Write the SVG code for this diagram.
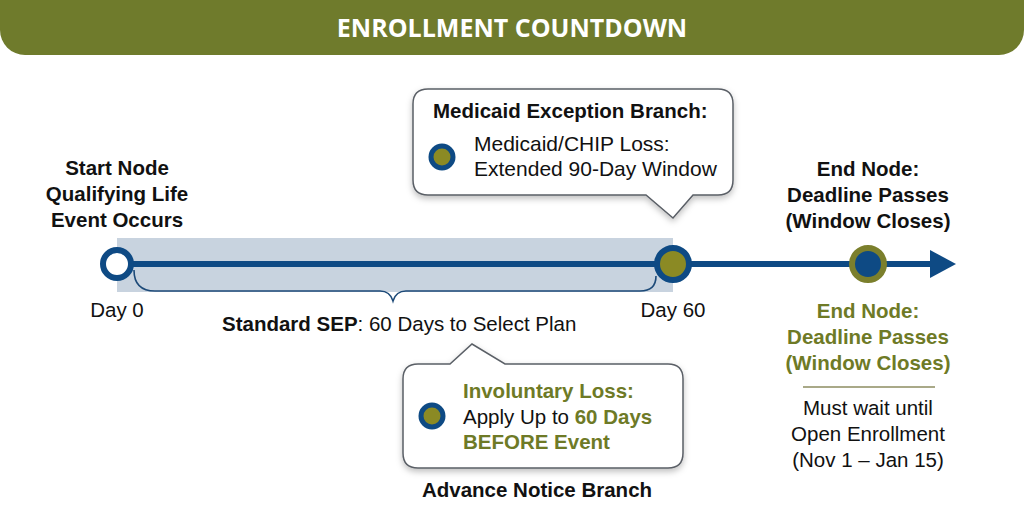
<svg xmlns="http://www.w3.org/2000/svg" width="1024" height="525" viewBox="0 0 1024 525">
<defs>
<style>
.t{font-family:"Liberation Sans",Arial,sans-serif;font-size:20.5px;fill:#111}
.b{font-weight:bold}
.c{text-anchor:middle}
.ol{fill:#6e7a26}
.call{fill:#fff;stroke:#5a5f66;stroke-width:1.5}
</style>
<filter id="sh" x="-10%" y="-10%" width="120%" height="130%">
<feDropShadow dx="0" dy="3" stdDeviation="3" flood-color="#000" flood-opacity="0.25"/>
</filter>
</defs>
<rect width="1024" height="525" fill="#fff"/>
<g id="header">
<path d="M0 0H1024V30A25 25 0 0 1 999 55H25A25 25 0 0 1 0 30Z" fill="#6f7b2c"/>
<text x="512" y="37" text-anchor="middle" style="font-family:'Open Sans',Lato,sans-serif;font-weight:bold;font-size:25px;fill:#fff">ENROLLMENT COUNTDOWN</text>
</g>
<g id="sep-band">
<rect x="117" y="238" width="556" height="54" fill="#c8d3df"/>
</g>
<g id="connectors">
<line x1="117" y1="264" x2="935" y2="264" stroke="#0e4a84" stroke-width="6"/>
<path d="M930 250L956 264L930 278Z" fill="#0e4a84"/>
<path d="M134 270Q134 291 155 291H380Q390 291 393 301Q396 291 406 291H640Q656 291 656 276" fill="none" stroke="#1d4a78" stroke-width="1.6"/>
</g>
<g id="start-node">
<circle cx="117" cy="264" r="14" fill="#fff" stroke="#0e4a84" stroke-width="6"/>
<text class="t b c" x="117" y="175">Start Node</text>
<text class="t b c" x="117" y="201">Qualifying Life</text>
<text class="t b c" x="117" y="227">Event Occurs</text>
<text class="t c" x="117" y="317">Day 0</text>
</g>
<g id="sep-label">
<text class="t" x="222" y="331"><tspan class="b">Standard SEP</tspan>: 60 Days to Select Plan</text>
</g>
<g id="day60-node">
<circle cx="673" cy="264" r="16" fill="#8b8a24" stroke="#0e4a84" stroke-width="6"/>
<text class="t c" x="673" y="317">Day 60</text>
</g>
<g id="medicaid-branch">
<path class="call" filter="url(#sh)" d="M428 89H718Q733 89 733 104V180Q733 195 718 195H693L673 218L646 195H428Q413 195 413 180V104Q413 89 428 89Z"/>
<text class="t b" x="433" y="118">Medicaid Exception Branch:</text>
<circle cx="442" cy="157" r="11" fill="#8b8a24" stroke="#0e4a84" stroke-width="5"/>
<text class="t" x="474" y="151" style="font-size:21px">Medicaid/CHIP Loss:</text>
<text class="t" x="474" y="176" style="font-size:21px">Extended 90-Day Window</text>
</g>
<g id="advance-branch">
<path class="call" filter="url(#sh)" d="M418 364H450L472 344L505 364H668Q683 364 683 379V453Q683 468 668 468H418Q403 468 403 453V379Q403 364 418 364Z"/>
<circle cx="432" cy="416" r="11" fill="#8b8a24" stroke="#0e4a84" stroke-width="5"/>
<text class="t b ol" x="463" y="398">Involuntary Loss:</text>
<text class="t" x="463" y="424">Apply Up to <tspan class="b ol">60 Days</tspan></text>
<text class="t b ol" x="463" y="449">BEFORE Event</text>
<text class="t b c" x="537" y="497">Advance Notice Branch</text>
</g>
<g id="end-node">
<circle cx="868" cy="264" r="16" fill="#0e4a84" stroke="#7b7f2c" stroke-width="6"/>
<text class="t b c" x="868" y="176">End Node:</text>
<text class="t b c" x="868" y="202">Deadline Passes</text>
<text class="t b c" x="868" y="228">(Window Closes)</text>
<text class="t b c ol" x="868" y="318">End Node:</text>
<text class="t b c ol" x="868" y="344">Deadline Passes</text>
<text class="t b c ol" x="868" y="370">(Window Closes)</text>
<line x1="803" y1="387" x2="935" y2="387" stroke="#8c8c60" stroke-width="1.5"/>
<text class="t c" x="868" y="415">Must wait until</text>
<text class="t c" x="868" y="441">Open Enrollment</text>
<text class="t c" x="868" y="467">(Nov 1 – Jan 15)</text>
</g>
</svg>
